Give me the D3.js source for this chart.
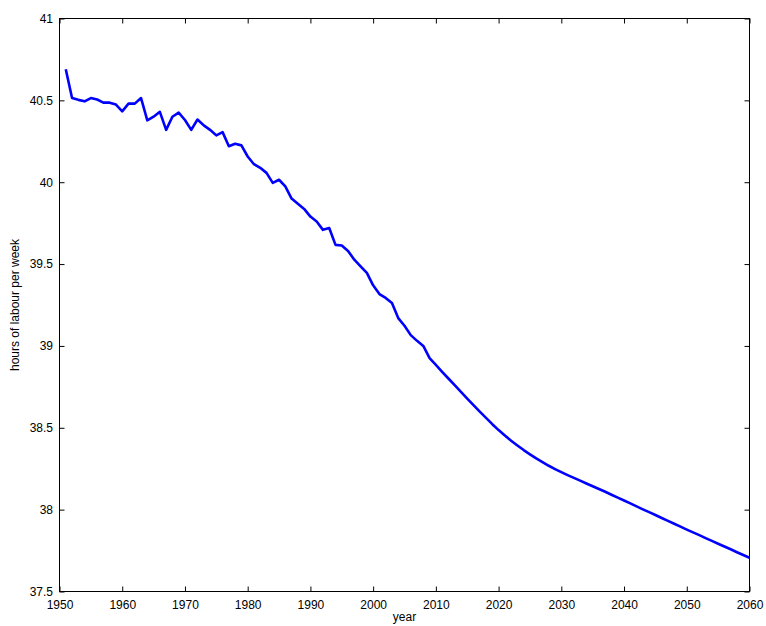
<!DOCTYPE html>
<html>
<head>
<meta charset="utf-8">
<script src="https://cdn.jsdelivr.net/npm/d3@7"></script>
<style>
html,body{margin:0;padding:0;background:#fff;}
svg{display:block;}
text{font-family:"Liberation Sans",Arial,Helvetica,sans-serif;font-size:12px;fill:#000;}
</style>
</head>
<body>
<script>
const years = d3.range(1951, 2061);
const hours = [
  40.69, 40.514, 40.503, 40.494, 40.514, 40.505, 40.486, 40.486, 40.474, 40.433,
  40.48, 40.48, 40.514, 40.378, 40.40, 40.43, 40.32, 40.40, 40.425, 40.38,
  40.32, 40.383, 40.347, 40.32, 40.286, 40.306, 40.22, 40.235, 40.225, 40.157,
  40.11, 40.088, 40.057, 39.996, 40.015, 39.974, 39.90, 39.868, 39.837, 39.79,
  39.76, 39.709, 39.72, 39.617, 39.613, 39.58, 39.527, 39.486, 39.446, 39.37,
  39.317, 39.293, 39.262, 39.17, 39.123, 39.066, 39.031, 39.0, 38.925, 38.884,
  38.842, 38.801, 38.760, 38.719, 38.678, 38.638, 38.599, 38.561, 38.522, 38.486,
  38.453, 38.421, 38.392, 38.364, 38.338, 38.313, 38.290, 38.268, 38.248, 38.229,
  38.211, 38.194, 38.177, 38.160, 38.143, 38.126, 38.109, 38.091, 38.073, 38.056,
  38.038, 38.020, 38.002, 37.985, 37.967, 37.949, 37.931, 37.914, 37.896, 37.878,
  37.861, 37.844, 37.826, 37.809, 37.792, 37.775, 37.758, 37.740, 37.723, 37.706
];
const xTicks = [1950, 1960, 1970, 1980, 1990, 2000, 2010, 2020, 2030, 2040, 2050, 2060];
const yTicks = [37.5, 38, 38.5, 39, 39.5, 40, 40.5, 41];
const xLabel = "year";
const yLabel = "hours of labour per week";

const W = 766, H = 626;
const m = {left: 59.5, right: 749.5, top: 18.5, bottom: 591.5};

const svg = d3.select("body").append("svg").attr("width", W).attr("height", H);

const x = d3.scaleLinear().domain([1950, 2060]).range([m.left, m.right]);
const y = d3.scaleLinear().domain([37.5, 41]).range([m.bottom, m.top]);

const fmt = d => String(d);
const tl = 5;

svg.append("g").attr("transform", `translate(0,${m.bottom})`)
  .call(d3.axisBottom(x).tickValues(xTicks).tickFormat(fmt).tickSizeInner(-tl).tickSizeOuter(0).tickPadding(9))
  .call(g => g.select(".domain").remove());
svg.append("g").attr("transform", `translate(0,${m.top})`)
  .call(d3.axisTop(x).tickValues(xTicks).tickFormat("").tickSizeInner(-tl).tickSizeOuter(0))
  .call(g => g.select(".domain").remove());
svg.append("g").attr("transform", `translate(${m.left},0)`)
  .call(d3.axisLeft(y).tickValues(yTicks).tickFormat(fmt).tickSizeInner(-tl).tickSizeOuter(0).tickPadding(6.5))
  .call(g => g.select(".domain").remove());
svg.append("g").attr("transform", `translate(${m.right},0)`)
  .call(d3.axisRight(y).tickValues(yTicks).tickFormat("").tickSizeInner(-tl).tickSizeOuter(0))
  .call(g => g.select(".domain").remove());

svg.selectAll(".tick text").style("font-size", "12px").style("font-family", "'Liberation Sans',Arial,sans-serif");
svg.selectAll(".tick line").attr("stroke", "#000");

svg.append("rect")
  .attr("x", m.left).attr("y", m.top)
  .attr("width", m.right - m.left).attr("height", m.bottom - m.top)
  .attr("fill", "none").attr("stroke", "#000").attr("stroke-width", 1);

const line = d3.line().x((d, i) => x(years[i])).y(d => y(d));
svg.append("path").datum(hours)
  .attr("d", line)
  .attr("fill", "none")
  .attr("stroke", "#0000ff")
  .attr("stroke-width", 2.6)
  .attr("stroke-linejoin", "round");

svg.append("text")
  .attr("x", (m.left + m.right) / 2).attr("y", 621)
  .attr("text-anchor", "middle").text(xLabel);

svg.append("text")
  .attr("transform", `translate(19,${(m.top + m.bottom) / 2}) rotate(-90)`)
  .attr("text-anchor", "middle").text(yLabel);
</script>
</body>
</html>
